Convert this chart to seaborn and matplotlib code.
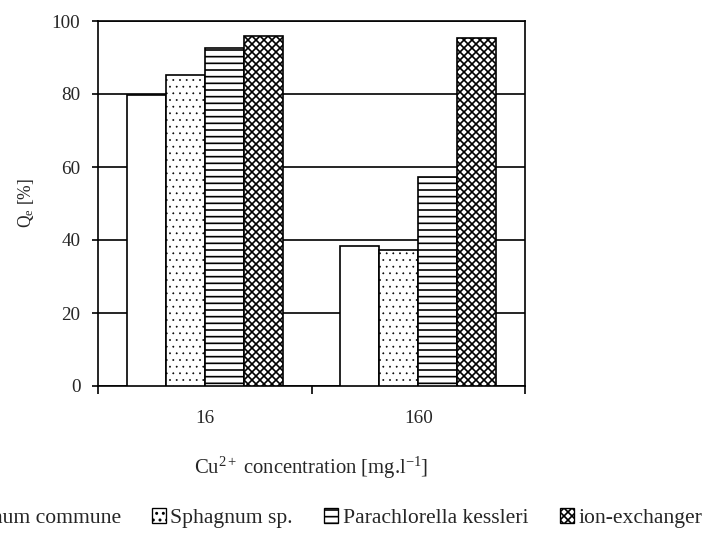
import matplotlib
matplotlib.use("Agg")
import matplotlib.pyplot as plt
import seaborn as sns
import pandas as pd
from matplotlib.patches import Patch

concentrations = ["16", "160"]
sorbents = ["Polytrichum commune", "Sphagnum sp.", "Parachlorella kessleri", "ion-exchanger"]
vals_16 = [79.8, 85.2, 92.5, 96.0]
vals_160 = [38.4, 37.2, 57.3, 95.4]
y_ticks = [0, 20, 40, 60, 80, 100]
hatches = ["", "...", "---", "xxxxx"]

rows = []
for s, a, b in zip(sorbents, vals_16, vals_160):
    rows.append({"conc": concentrations[0], "sorbent": s, "Qe": a})
    rows.append({"conc": concentrations[1], "sorbent": s, "Qe": b})
df = pd.DataFrame(rows)

sns.set_style("white")
plt.rcParams["font.family"] = ["Liberation Serif", "DejaVu Serif"]
plt.rcParams["mathtext.fontset"] = "custom"
plt.rcParams["mathtext.rm"] = "Liberation Serif"
plt.rcParams["mathtext.it"] = "Liberation Serif:italic"
plt.rcParams["hatch.linewidth"] = 1.0
plt.rcParams["hatch.color"] = "black"

DPI = 120
fig = plt.figure(figsize=(702 / DPI, 533 / DPI), dpi=DPI)
ax = fig.add_axes([98 / 702, 1 - 386 / 533, (525 - 98) / 702, (386 - 21) / 533])

sns.barplot(data=df, x="conc", y="Qe", hue="sorbent", order=concentrations,
            hue_order=sorbents, width=0.73, palette=["white"] * 4,
            edgecolor="black", linewidth=1.0, ax=ax, legend=False, zorder=3)


def style_patch(p, h):
    p.set_hatch(h)
    p.set_facecolor("white")
    p.set_edgecolor("black")
    if h == "...":
        try:
            p.set_hatch_linewidth(0.3)
        except Exception:
            pass


for cont, h in zip(ax.containers, hatches):
    for p in cont.patches:
        style_patch(p, h)

ax.set_ylim(0, 100)
ax.set_xlim(-0.5, 1.5)
ax.set_yticks(y_ticks)
ax.set_yticklabels([str(t) for t in y_ticks])
ax.yaxis.grid(True, color="black", linewidth=1.0, zorder=0)
ax.set_axisbelow(True)
ax.xaxis.grid(False)

ax.set_xticks([-0.5, 0.5, 1.5])
ax.set_xticklabels(["", "", ""])
ax.set_xticks([0, 1], minor=True)
ax.set_xticklabels(concentrations, minor=True)
ax.tick_params(axis="x", which="major", direction="out", length=4.5, width=1.0,
               color="black", bottom=True)
ax.tick_params(axis="x", which="minor", length=0, pad=14.5, labelsize=11.5)
ax.tick_params(axis="y", direction="out", length=3.6, width=1.0, color="black",
               left=True, pad=7, labelsize=11.5)

for sp in ax.spines.values():
    sp.set_visible(True)
    sp.set_color("black")
    sp.set_linewidth(1.0)

ax.set_xlabel(r"Cu$^{2+}$ concentration [mg.l$^{\mathrm{-1}}$]", fontsize=12.4)
ax.set_ylabel(r"Q$_{\mathrm{e}}$ [%]", fontsize=10.5)
ax.xaxis.set_label_coords(0.5, -0.188)
ax.yaxis.set_label_coords(-0.145, 0.5)

handles = []
for h in hatches:
    hp = Patch(facecolor="white", edgecolor="black", hatch=h, linewidth=0.8)
    if h == "...":
        try:
            hp.set_hatch_linewidth(0.3)
        except Exception:
            pass
    handles.append(hp)
fig.legend(handles, sorbents, loc="center right", bbox_to_anchor=(1.0, 1 - 518 / 533),
           ncol=4, frameon=False, fontsize=13, handlelength=0.65, handleheight=0.65,
           handletextpad=0.2, columnspacing=1.45, borderpad=0, borderaxespad=0)

fig.savefig("out.png", dpi=DPI)
